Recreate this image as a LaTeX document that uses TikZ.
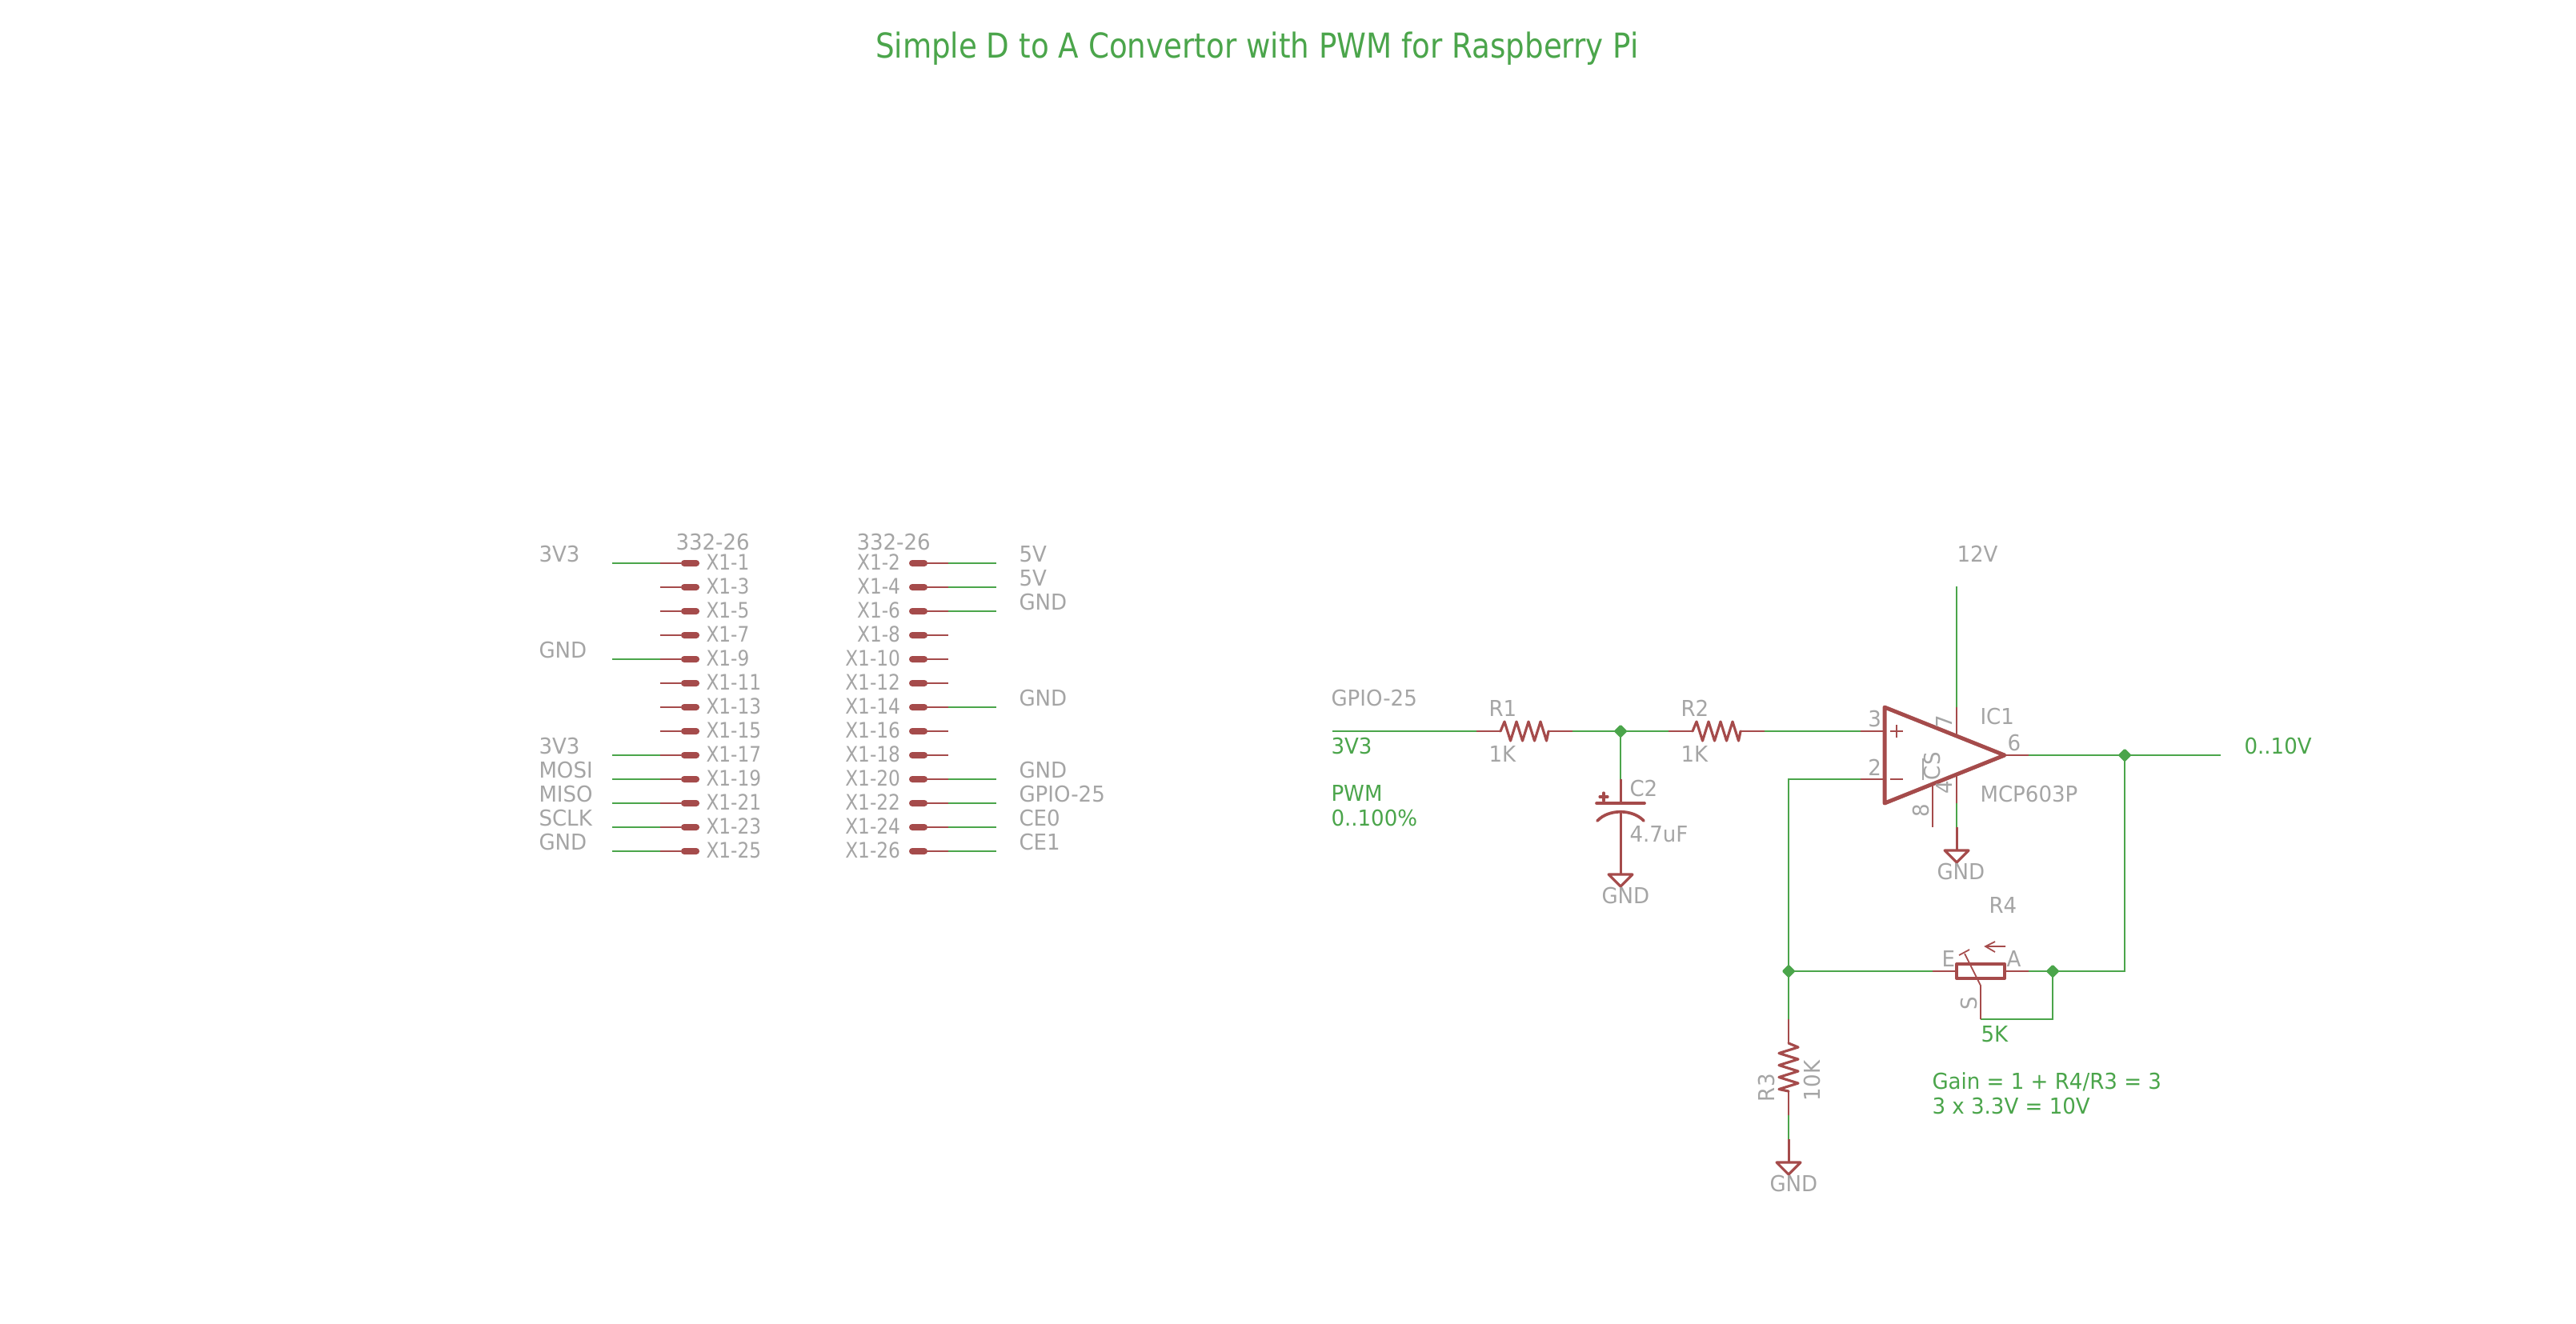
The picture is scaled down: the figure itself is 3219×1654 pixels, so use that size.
\documentclass[tikz,border=0pt]{standalone}
\usepackage{fontspec}
\setmainfont{DejaVu Sans}[FakeStretch=0.95]
\newfontfamily\titlefont{DejaVu Sans}[FakeStretch=0.868]
\newfontfamily\pinfont{DejaVu Sans}[FakeStretch=0.87]
\definecolor{ered}{HTML}{A54B4B}
\definecolor{egreen}{HTML}{4BA54B}
\definecolor{egray}{HTML}{A5A5A5}
\newcommand{\lbl}{\fontsize{7.8}{8}\selectfont}
\newcommand{\plbl}{\pinfont\fontsize{7.6}{8}\selectfont}
\newcommand{\ttl}{\titlefont\fontsize{12.2}{14}\selectfont}
\tikzset{
  x=0.01cm,y=-0.01cm,
  net/.style={draw=egreen,line width=0.65pt},
  pin/.style={draw=ered,line width=0.6pt},
  fat/.style={draw=ered,line width=0.9pt,line join=round,line cap=round},
  sym/.style={draw=ered,line width=1.4pt,line join=round,line cap=round},
  pad/.style={draw=none,fill=ered,rounded corners=1.1pt},
  dot/.style={fill=egreen,draw=none},
  gl/.style={inner sep=0pt,outer sep=0pt,anchor=base west,text=egray,font=\lbl,xshift=-0.015cm,yshift=0.01cm},
  gr/.style={inner sep=0pt,outer sep=0pt,anchor=base east,text=egray,font=\lbl,xshift=0.02cm,yshift=0.01cm},
  gv/.style={inner sep=0pt,outer sep=0pt,anchor=base west,text=egray,font=\lbl,rotate=90},
  tl/.style={inner sep=0pt,outer sep=0pt,anchor=base west,text=egreen,font=\lbl,xshift=-0.015cm,yshift=0.01cm},
}
\begin{document}
\begin{tikzpicture}
\useasboundingbox[fill=white] (0,0) rectangle (3219,1654);
% title
\node[inner sep=0pt,outer sep=0pt,anchor=base west,text=egreen,font=\ttl] (title) at (1094,72) {Simple D to A Convertor with PWM for Raspberry Pi};
% left header pins
\foreach \n/\r in {1/0,3/1,5/2,7/3,9/4,11/5,13/6,15/7,17/8,19/9,21/10,23/11,25/12}{
  \coordinate (L\n) at (825,704+30*\r);
  \coordinate (LP\n) at (851,704+30*\r);
  \fill[pad] (851,700+30*\r) rectangle (874,708+30*\r);
  \draw[pin] (L\n) -- (LP\n);
  \node[gl,font=\plbl] (LT\n) at (884,713+30*\r) {X1-\n};
}
% right header pins
\foreach \n/\r in {2/0,4/1,6/2,8/3,10/4,12/5,14/6,16/7,18/8,20/9,22/10,24/11,26/12}{
  \coordinate (R\n) at (1185,704+30*\r);
  \coordinate (RP\n) at (1159,704+30*\r);
  \fill[pad] (1136,700+30*\r) rectangle (1159,708+30*\r);
  \draw[pin] (RP\n) -- (R\n);
  \node[gr,font=\plbl] (RT\n) at (1123,713+30*\r) {X1-\n};
}
\node[gl] (h1) at (846,688) {332-26};
\node[gl] (h2) at (1072,688) {332-26};
% left nets
\foreach \n/\t in {1/3V3,9/GND,17/3V3,19/MOSI,21/MISO,23/SCLK,25/GND}{
  \coordinate (LE\n) at ([xshift=-60*0.01cm]L\n);
  \draw[net] (LE\n) -- (L\n);
  \node[gl,anchor=base west] (LN\n) at ([xshift=-150*0.01cm,yshift=0.01cm]L\n) {\t};
}
% right nets
\foreach \n/\t in {2/5V,4/5V,6/GND,14/GND,20/GND,22/GPIO-25,24/CE0,26/CE1}{
  \coordinate (RE\n) at ([xshift=60*0.01cm]R\n);
  \draw[net] (R\n) -- (RE\n);
  \node[gl] (RN\n) at ([xshift=90*0.01cm,yshift=0.01cm]R\n) {\t};
}
% main signal path coordinates
\coordinate (in) at (1665,914);
\coordinate (r1a) at (1845,914); \coordinate (r1s) at (1875,914);
\coordinate (r1e) at (1935,914); \coordinate (r1b) at (1965,914);
\coordinate (j1) at (2025,914);
\coordinate (r2a) at (2085,914); \coordinate (r2s) at (2115,914);
\coordinate (r2e) at (2175,914); \coordinate (r2b) at (2205,914);
\coordinate (p3) at (2325,914); \coordinate (p3i) at (2355,914);
\coordinate (p2) at (2325,974); \coordinate (p2i) at (2355,974);
\coordinate (fbc) at (2235,974); \coordinate (j3) at (2235,1214);
\coordinate (p6i) at (2505,944); \coordinate (p6) at (2535,944);
\coordinate (j2) at (2655,944); \coordinate (out) at (2775,944);
% wires
\draw[net] (in) -- (r1a);
\draw[net] (r1b) -- (r2a);
\draw[net] (r2b) -- (p3);
\draw[net] (p2) -- (fbc) -- (j3);
\draw[net] (p6) -- (out);
% R1, R2
\draw[pin] (r1a) -- (r1s);
\draw[pin] (r1e) -- (r1b);
\draw[fat] (r1s) -- (1880,902) -- (1887.5,926) -- (1895,902) -- (1902.5,926) -- (1910,902) -- (1917.5,926) -- (1925,902) -- (1932.5,926) -- (r1e);
\draw[pin] (r2a) -- (r2s);
\draw[pin] (r2e) -- (r2b);
\draw[fat] (r2s) -- (2120,902) -- (2127.5,926) -- (2135,902) -- (2142.5,926) -- (2150,902) -- (2157.5,926) -- (2165,902) -- (2172.5,926) -- (r2e);
% C2
\coordinate (c2t) at (2025,974); \coordinate (c2p) at (2025,1004);
\coordinate (c2a) at (2025,1015); \coordinate (g1) at (2025,1093);
\draw[net] (j1) -- (c2t);
\draw[pin,line width=0.85pt] (c2t) -- (c2p);
\draw[pin,line width=0.85pt] (c2a) -- (g1);
\draw[sym,line width=1.05pt] (1995,1004) -- (2055,1004);
\draw[fat,line width=1.05pt] (1996,1026) .. controls (2010,1011) and (2040,1011) .. (2054,1026);
\draw[fat] (1999,996) -- (2009,996) (2004,991) -- (2004,1001);
\draw[fat] (2010,1093) -- (2040,1093) -- (2025,1108) -- cycle;
% op amp
\coordinate (v7) at (2445,884); \coordinate (v7i) at (2445,918);
\coordinate (v12) at (2445,733);
\coordinate (v4i) at (2445,968); \coordinate (v4) at (2445,1004);
\coordinate (v4g) at (2445,1034); \coordinate (g2) at (2445,1063);
\coordinate (p8i) at (2415,982); \coordinate (p8) at (2415,1034);
\draw[net] (v12) -- (v7);
\draw[pin] (v7) -- (v7i);
\draw[pin] (v4i) -- (v4);
\draw[net] (v4) -- (v4g);
\draw[pin,line width=0.85pt] (v4g) -- (g2);
\draw[pin] (p8i) -- (p8);
\draw[pin] (p3) -- (p3i);
\draw[pin] (p2) -- (p2i);
\draw[pin] (p6i) -- (p6);
\draw[sym] (2355,884) -- (2505,944) -- (2355,1004) -- cycle;
\draw[pin] (2362,914) -- (2378,914) (2370,906) -- (2370,922);
\draw[pin] (2362,974) -- (2378,974);
\draw[fat] (2430,1063) -- (2460,1063) -- (2445,1078) -- cycle;
\draw[draw=egray,line width=0.5pt] (2403,975) -- (2403,948);
% feedback
\coordinate (r4l) at (2415,1214); \coordinate (r4bl) at (2445,1214);
\coordinate (r4br) at (2505,1214); \coordinate (r4r) at (2535,1214);
\coordinate (j4) at (2565,1214); \coordinate (fbr) at (2655,1214);
\coordinate (sb) at (2475,1274); \coordinate (sm) at (2475,1232);
\coordinate (sc) at (2565,1274);
\draw[net] (j2) -- (fbr) -- (r4r);
\draw[net] (j3) -- (r4l);
\draw[net] (j4) -- (sc) -- (sb);
\draw[pin] (r4l) -- (r4bl);
\draw[pin] (r4br) -- (r4r);
\draw[sym,line width=1.15pt] (2445,1205) rectangle (2505,1223);
\draw[pin,line width=0.5pt] (sb) -- (sm) -- (2455,1192);
\draw[pin,line width=0.5pt] (2448,1194) -- (2461,1187);
\draw[pin,line width=0.5pt] (2506,1183) -- (2481,1183) (2493,1177) -- (2481,1183) -- (2493,1190);
% R3
\coordinate (r3a) at (2235,1274); \coordinate (r3s) at (2235,1304);
\coordinate (r3e) at (2235,1364); \coordinate (r3b) at (2235,1394);
\coordinate (r3g) at (2235,1424); \coordinate (g3) at (2235,1453);
\draw[net] (j3) -- (r3a);
\draw[pin] (r3a) -- (r3s);
\draw[pin] (r3e) -- (r3b);
\draw[net] (r3b) -- (r3g);
\draw[pin,line width=0.85pt] (r3g) -- (g3);
\draw[fat] (r3s) -- (2247,1309) -- (2223,1316.5) -- (2247,1324) -- (2223,1331.5) -- (2247,1339) -- (2223,1346.5) -- (2247,1354) -- (2223,1361.5) -- (r3e);
\draw[fat] (2220,1453) -- (2250,1453) -- (2235,1468) -- cycle;
% junctions
\foreach \j in {j1,j2,j3,j4}{
  \fill[dot] ([shift={(-7.5,-1)}]\j) -- ([shift={(-1,-7.5)}]\j) -- ([shift={(1,-7.5)}]\j) -- ([shift={(7.5,-1)}]\j) -- ([shift={(7.5,1)}]\j) -- ([shift={(1,7.5)}]\j) -- ([shift={(-1,7.5)}]\j) -- ([shift={(-7.5,1)}]\j) -- cycle;
}
% labels
\node[gl] (a1) at (1665,883) {GPIO-25};
\node[tl] (a2) at (1665,943) {3V3};
\node[tl] (a3) at (1665,1002) {PWM};
\node[tl] (a4) at (1665,1033) {0..100\%};
\node[gl] (a5) at (1862,896) {R1};
\node[gl] (a6) at (1862,953) {1K};
\node[gl] (a7) at (2102,896) {R2};
\node[gl] (a8) at (2102,953) {1K};
\node[gl] (a9) at (2038,996) {C2};
\node[gl] (a10) at (2038,1053) {4.7uF};
\node[gl] (a11) at (2003,1130) {GND};
\node[gl] (b1) at (2447,703) {12V};
\node[gr] (b2) at (2349,909) {3};
\node[gr] (b3) at (2349,970) {2};
\node[gl] (b4) at (2510,939) {6};
\node[gv] (b5) at (2439,910) {7};
\node[gv] (b6) at (2439,992) {4};
\node[gv] (b7) at (2410,1021) {8};
\node[gv] (b8) at (2424,975) {CS};
\node[gl] (b9) at (2476,906) {IC1};
\node[gl] (b10) at (2476,1003) {MCP603P};
\node[gl] (b11) at (2422,1100) {GND};
\node[tl] (b12) at (2806,943) {0..10V};
\node[gl] (c1) at (2487,1142) {R4};
\node[gl] (c2) at (2428,1209) {E};
\node[gl] (c3) at (2509,1209) {A};
\node[gv] (c4) at (2470,1262) {S};
\node[tl] (c5) at (2477,1303) {5K};
\node[tl] (c6) at (2416,1362) {Gain = 1 + R4/R3 = 3};
\node[tl] (c7) at (2416,1393) {3 x 3.3V = 10V};
\node[gv] (c8) at (2217,1377) {R3};
\node[gv] (c9) at (2274,1376) {10K};
\node[gl] (c10) at (2213,1490) {GND};
\end{tikzpicture}
\end{document}
